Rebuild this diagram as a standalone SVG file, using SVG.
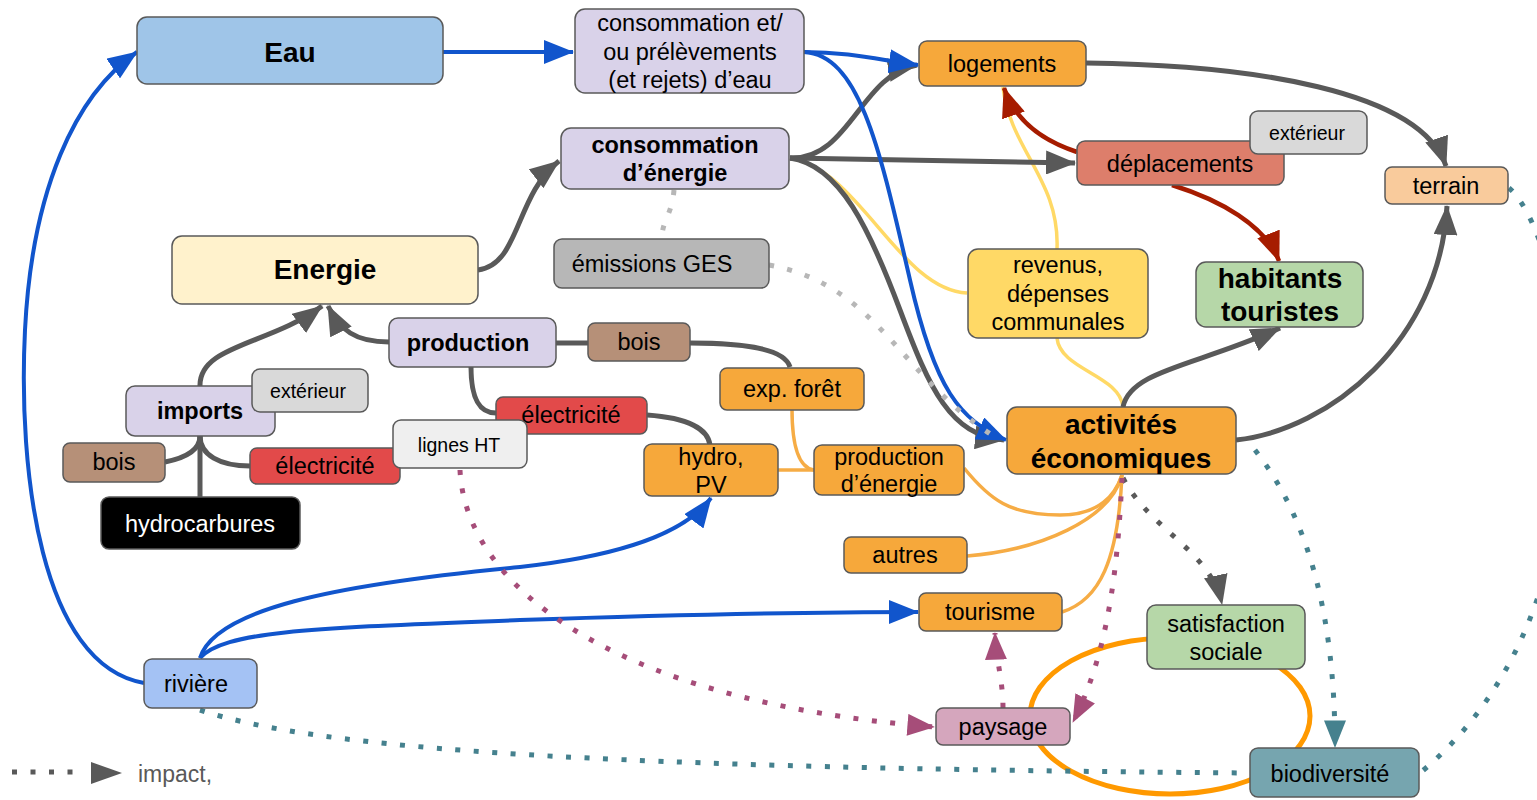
<svg xmlns="http://www.w3.org/2000/svg" width="1537" height="800" viewBox="0 0 1537 800">
<style>
.box{stroke:#595959;stroke-width:1.5}
.t{font-family:"Liberation Sans",Arial,sans-serif;font-size:23.5px;fill:#000;text-anchor:middle}
.b{font-weight:bold}
.big{font-size:28px}
.sm{font-size:19.5px}
.c{fill:none}
.blue{stroke:#1155cc;stroke-width:4}
.gray{stroke:#595959;stroke-width:5}
.red{stroke:#a61c00;stroke-width:4.5}
.yel{stroke:#ffd966;stroke-width:3.5}
.org{stroke:#f6ac45;stroke-width:3.5}
.org2{stroke:#ff9900;stroke-width:5}
.dot{stroke-width:5;stroke-dasharray:5 13.5}
.pur{stroke:#a64d79}
.teal{stroke:#45818e}
.lg{stroke:#b7b7b7}
.dg{stroke:#595959}
</style>
<defs>
<marker id="aBlue" viewBox="0 0 30 24" markerWidth="30" markerHeight="24" refX="29" refY="12" orient="auto" markerUnits="userSpaceOnUse"><path d="M0,0 L30,12 L0,24 z" fill="#1155cc"/></marker>
<marker id="aGray" viewBox="0 0 30 24" markerWidth="30" markerHeight="24" refX="29" refY="12" orient="auto" markerUnits="userSpaceOnUse"><path d="M0,0 L30,12 L0,24 z" fill="#595959"/></marker>
<marker id="aRed" viewBox="0 0 30 24" markerWidth="30" markerHeight="24" refX="29" refY="12" orient="auto" markerUnits="userSpaceOnUse"><path d="M0,0 L30,12 L0,24 z" fill="#a61c00"/></marker>
<marker id="aPur" viewBox="0 0 30 24" markerWidth="28" markerHeight="22" refX="29" refY="12" orient="auto" markerUnits="userSpaceOnUse"><path d="M0,0 L30,12 L0,24 z" fill="#a64d79"/></marker>
<marker id="aTeal" viewBox="0 0 30 24" markerWidth="28" markerHeight="22" refX="29" refY="12" orient="auto" markerUnits="userSpaceOnUse"><path d="M0,0 L30,12 L0,24 z" fill="#45818e"/></marker>
</defs>
<rect width="1537" height="800" fill="#fff"/>

<g id="connectors">
  <path class="c yel" d="M967,293 C900,290 860,170 790,158"/>
  <path class="c yel" d="M1003,87 C1010,150 1060,180 1057,249"/>
  <path class="c yel" d="M1057,338 C1060,370 1120,375 1123,407"/>
  <path class="c org" d="M792,409 C792,450 800,468 814,470"/>
  <path class="c org" d="M778,470 L814,470"/>
  <path class="c org" d="M964,468 C990,500 1010,515 1060,515 C1100,515 1115,495 1122,475"/>
  <path class="c org" d="M967,556 C1040,550 1110,520 1122,475"/>
  <path class="c org" d="M1062,612 C1100,600 1118,560 1122,475"/>
  <ellipse class="c org2" cx="1170" cy="716" rx="140" ry="78"/>
  <path class="c gray" d="M478,270 C520,265 515,195 559,161" marker-end="url(#aGray)"/>
  <path class="c gray" d="M790,158 C850,160 860,75 917,65" marker-end="url(#aGray)"/>
  <path class="c gray" d="M790,158 L1075,163" marker-end="url(#aGray)"/>
  <path class="c gray" d="M790,158 C840,165 870,230 900,310 C930,390 950,435 1004,440" marker-end="url(#aGray)"/>
  <path class="c gray" d="M1086,63 C1250,65 1420,90 1446,166" marker-end="url(#aGray)"/>
  <path class="c gray" d="M1236,440 C1330,430 1440,340 1447,206" marker-end="url(#aGray)"/>
  <path class="c gray" d="M1123,407 C1130,370 1200,365 1280,328" marker-end="url(#aGray)"/>
  <path class="c gray" d="M200,387 C198,345 270,345 322,306" marker-end="url(#aGray)"/>
  <path class="c gray" d="M389,342 C355,342 340,330 328,306" marker-end="url(#aGray)"/>
  <path class="c gray" d="M165,462 C185,458 200,450 200,436"/>
  <path class="c gray" d="M250,466 C220,466 200,455 200,436"/>
  <path class="c gray" d="M200,497 L200,436"/>
  <path class="c gray" d="M556,343 L588,343"/>
  <path class="c gray" d="M690,343 C750,343 785,350 790,367"/>
  <path class="c gray" d="M471,367 C471,400 480,413 496,413"/>
  <path class="c gray" d="M647,415 C690,418 708,430 710,445"/>
  <path class="c red" d="M1077,152 C1040,140 1015,120 1004,88" marker-end="url(#aRed)"/>
  <path class="c red" d="M1172,185 C1220,200 1265,225 1279,261" marker-end="url(#aRed)"/>
  <path class="c blue" d="M443,52 L573,52" marker-end="url(#aBlue)"/>
  <path class="c blue" d="M144,683 C40,665 18,470 25,330 C32,190 75,95 137,52" marker-end="url(#aBlue)"/>
  <path class="c blue" d="M200,658 C215,610 330,585 520,567 C600,558 680,540 711,498" marker-end="url(#aBlue)"/>
  <path class="c blue" d="M200,658 C225,630 320,628 520,620 C700,614 800,612 918,612" marker-end="url(#aBlue)"/>
  <path class="c blue" d="M804,52 C850,52 880,60 918,65" marker-end="url(#aBlue)"/>
  <path class="c blue" d="M804,52 C860,55 880,150 910,280 C935,390 960,420 1006,440" marker-end="url(#aBlue)"/>
  <path class="c dot lg" d="M674,190 C672,215 662,220 662,238"/>
  <path class="c dot lg" d="M769,265 C880,285 900,380 1000,440"/>
  <path class="c dot dg" d="M1123,478 C1150,530 1210,550 1222,604" marker-end="url(#aGray)"/>
  <path class="c dot teal" d="M1255,450 C1310,520 1335,620 1335,747" marker-end="url(#aTeal)"/>
  <path class="c dot teal" d="M200,710 C320,750 600,768 1250,773"/>
  <path class="c dot teal" d="M1509,188 C1570,240 1630,600 1420,773"/>
  <path class="c dot pur" d="M460,470 C465,580 600,700 934,727" marker-end="url(#aPur)"/>
  <path class="c dot pur" d="M1122,478 C1118,560 1110,650 1073,722" marker-end="url(#aPur)"/>
  <path class="c dot pur" d="M1003,708 C1003,680 996,660 995,633" marker-end="url(#aPur)"/>
</g>

<g id="n-eau"><rect class="box" x="137" y="17" width="306" height="67" rx="10" fill="#9fc5e8"/><text class="t b big" x="290" y="62">Eau</text></g>
<g id="n-conso-eau"><rect class="box" x="575" y="9" width="229" height="84" rx="10" fill="#d9d2e9"/><text class="t" x="690" y="31">consommation et/</text><text class="t" x="690" y="60">ou prélèvements</text><text class="t" x="690" y="88">(et rejets) d’eau</text></g>
<g id="n-logements"><rect class="box" x="919" y="41" width="167" height="45" rx="8" fill="#f6a83b"/><text class="t" x="1002" y="72">logements</text></g>
<g id="n-conso-energie"><rect class="box" x="561" y="128" width="228" height="61" rx="10" fill="#d9d2e9"/><text class="t b" x="675" y="153">consommation</text><text class="t b" x="675" y="181">d’énergie</text></g>
<g id="n-deplacements"><rect class="box" x="1077" y="141" width="207" height="44" rx="8" fill="#dd7e6b"/><text class="t" x="1180" y="172">déplacements</text></g>
<g id="n-exterieur-1"><rect class="box" x="1250" y="111" width="117" height="43" rx="8" fill="#d9d9d9"/><text class="t sm" x="1307" y="140">extérieur</text></g>
<g id="n-terrain"><rect class="box" x="1385" y="167" width="123" height="37" rx="7" fill="#f9cb9c"/><text class="t" x="1446" y="194">terrain</text></g>
<g id="n-energie"><rect class="box" x="172" y="236" width="306" height="68" rx="10" fill="#fff2cc"/><text class="t b big" x="325" y="279">Energie</text></g>
<g id="n-emissions"><rect class="box" x="554" y="239" width="215" height="49" rx="8" fill="#b7b7b7"/><text class="t" x="652" y="272">émissions GES</text></g>
<g id="n-revenus"><rect class="box" x="968" y="249" width="180" height="89" rx="10" fill="#ffd966"/><text class="t" x="1058" y="273">revenus,</text><text class="t" x="1058" y="302">dépenses</text><text class="t" x="1058" y="330">communales</text></g>
<g id="n-habitants"><rect class="box" x="1196" y="262" width="167" height="65" rx="10" fill="#b6d7a8"/><text class="t b big" x="1280" y="288">habitants</text><text class="t b big" x="1280" y="321">touristes</text></g>
<g id="n-production"><rect class="box" x="389" y="318" width="167" height="49" rx="9" fill="#d9d2e9"/><text class="t b" x="468" y="351">production</text></g>
<g id="n-bois-2"><rect class="box" x="588" y="323" width="102" height="38" rx="7" fill="#b69078"/><text class="t" x="639" y="350">bois</text></g>
<g id="n-exp-foret"><rect class="box" x="720" y="368" width="144" height="42" rx="7" fill="#f6a83b"/><text class="t" x="792" y="397">exp. forêt</text></g>
<g id="n-imports"><rect class="box" x="126" y="386" width="149" height="50" rx="9" fill="#d9d2e9"/><text class="t b" x="200" y="419">imports</text></g>
<g id="n-exterieur-2"><rect class="box" x="252" y="369" width="116" height="43" rx="8" fill="#d9d9d9"/><text class="t sm" x="308" y="398">extérieur</text></g>
<g id="n-electricite-2"><rect class="box" x="496" y="397" width="151" height="37" rx="7" fill="#e24a4a"/><text class="t" x="571" y="423">électricité</text></g>
<g id="n-bois-1"><rect class="box" x="63" y="443" width="102" height="39" rx="7" fill="#b69078"/><text class="t" x="114" y="470">bois</text></g>
<g id="n-electricite-1"><rect class="box" x="250" y="448" width="150" height="36" rx="7" fill="#e24a4a"/><text class="t" x="325" y="474">électricité</text></g>
<g id="n-lignes-ht"><rect class="box" x="393" y="420" width="134" height="48" rx="8" fill="#efefef"/><text class="t sm" x="459" y="452">lignes HT</text></g>
<g id="n-hydro"><rect class="box" x="644" y="444" width="134" height="52" rx="8" fill="#f6a83b"/><text class="t" x="711" y="465">hydro,</text><text class="t" x="711" y="493">PV</text></g>
<g id="n-prod-energie"><rect class="box" x="814" y="445" width="150" height="50" rx="8" fill="#f6a83b"/><text class="t" x="889" y="465">production</text><text class="t" x="889" y="492">d’énergie</text></g>
<g id="n-activites"><rect class="box" x="1007" y="407" width="229" height="67" rx="10" fill="#f6a83b"/><text class="t b big" x="1121" y="434">activités</text><text class="t b big" x="1121" y="468">économiques</text></g>
<g id="n-hydrocarbures"><rect class="box" x="101" y="497" width="199" height="52" rx="8" fill="#000"/><text class="t" x="200" y="532" style="fill:#fff">hydrocarbures</text></g>
<g id="n-autres"><rect class="box" x="844" y="537" width="123" height="36" rx="7" fill="#f6a83b"/><text class="t" x="905" y="563">autres</text></g>
<g id="n-tourisme"><rect class="box" x="919" y="593" width="143" height="38" rx="7" fill="#f6a83b"/><text class="t" x="990" y="620">tourisme</text></g>
<g id="n-satisfaction"><rect class="box" x="1147" y="605" width="158" height="64" rx="9" fill="#b6d7a8"/><text class="t" x="1226" y="632">satisfaction</text><text class="t" x="1226" y="660">sociale</text></g>
<g id="n-riviere"><rect class="box" x="144" y="659" width="113" height="49" rx="8" fill="#a4c2f4"/><text class="t" x="196" y="692">rivière</text></g>
<g id="n-paysage"><rect class="box" x="936" y="708" width="134" height="37" rx="7" fill="#d5a6bd"/><text class="t" x="1003" y="735">paysage</text></g>
<g id="n-biodiversite"><rect class="box" x="1250" y="748" width="169" height="49" rx="8" fill="#76a5af"/><text class="t" x="1330" y="782">biodiversité</text></g>

<g id="legend">
  <path class="c dot dg" d="M12,772 L84,772"/>
  <path d="M91,762 L122,773 L91,784 z" fill="#595959"/>
  <text class="t" x="138" y="782" style="text-anchor:start;fill:#595959;font-size:23px">impact,</text>
</g>
</svg>
